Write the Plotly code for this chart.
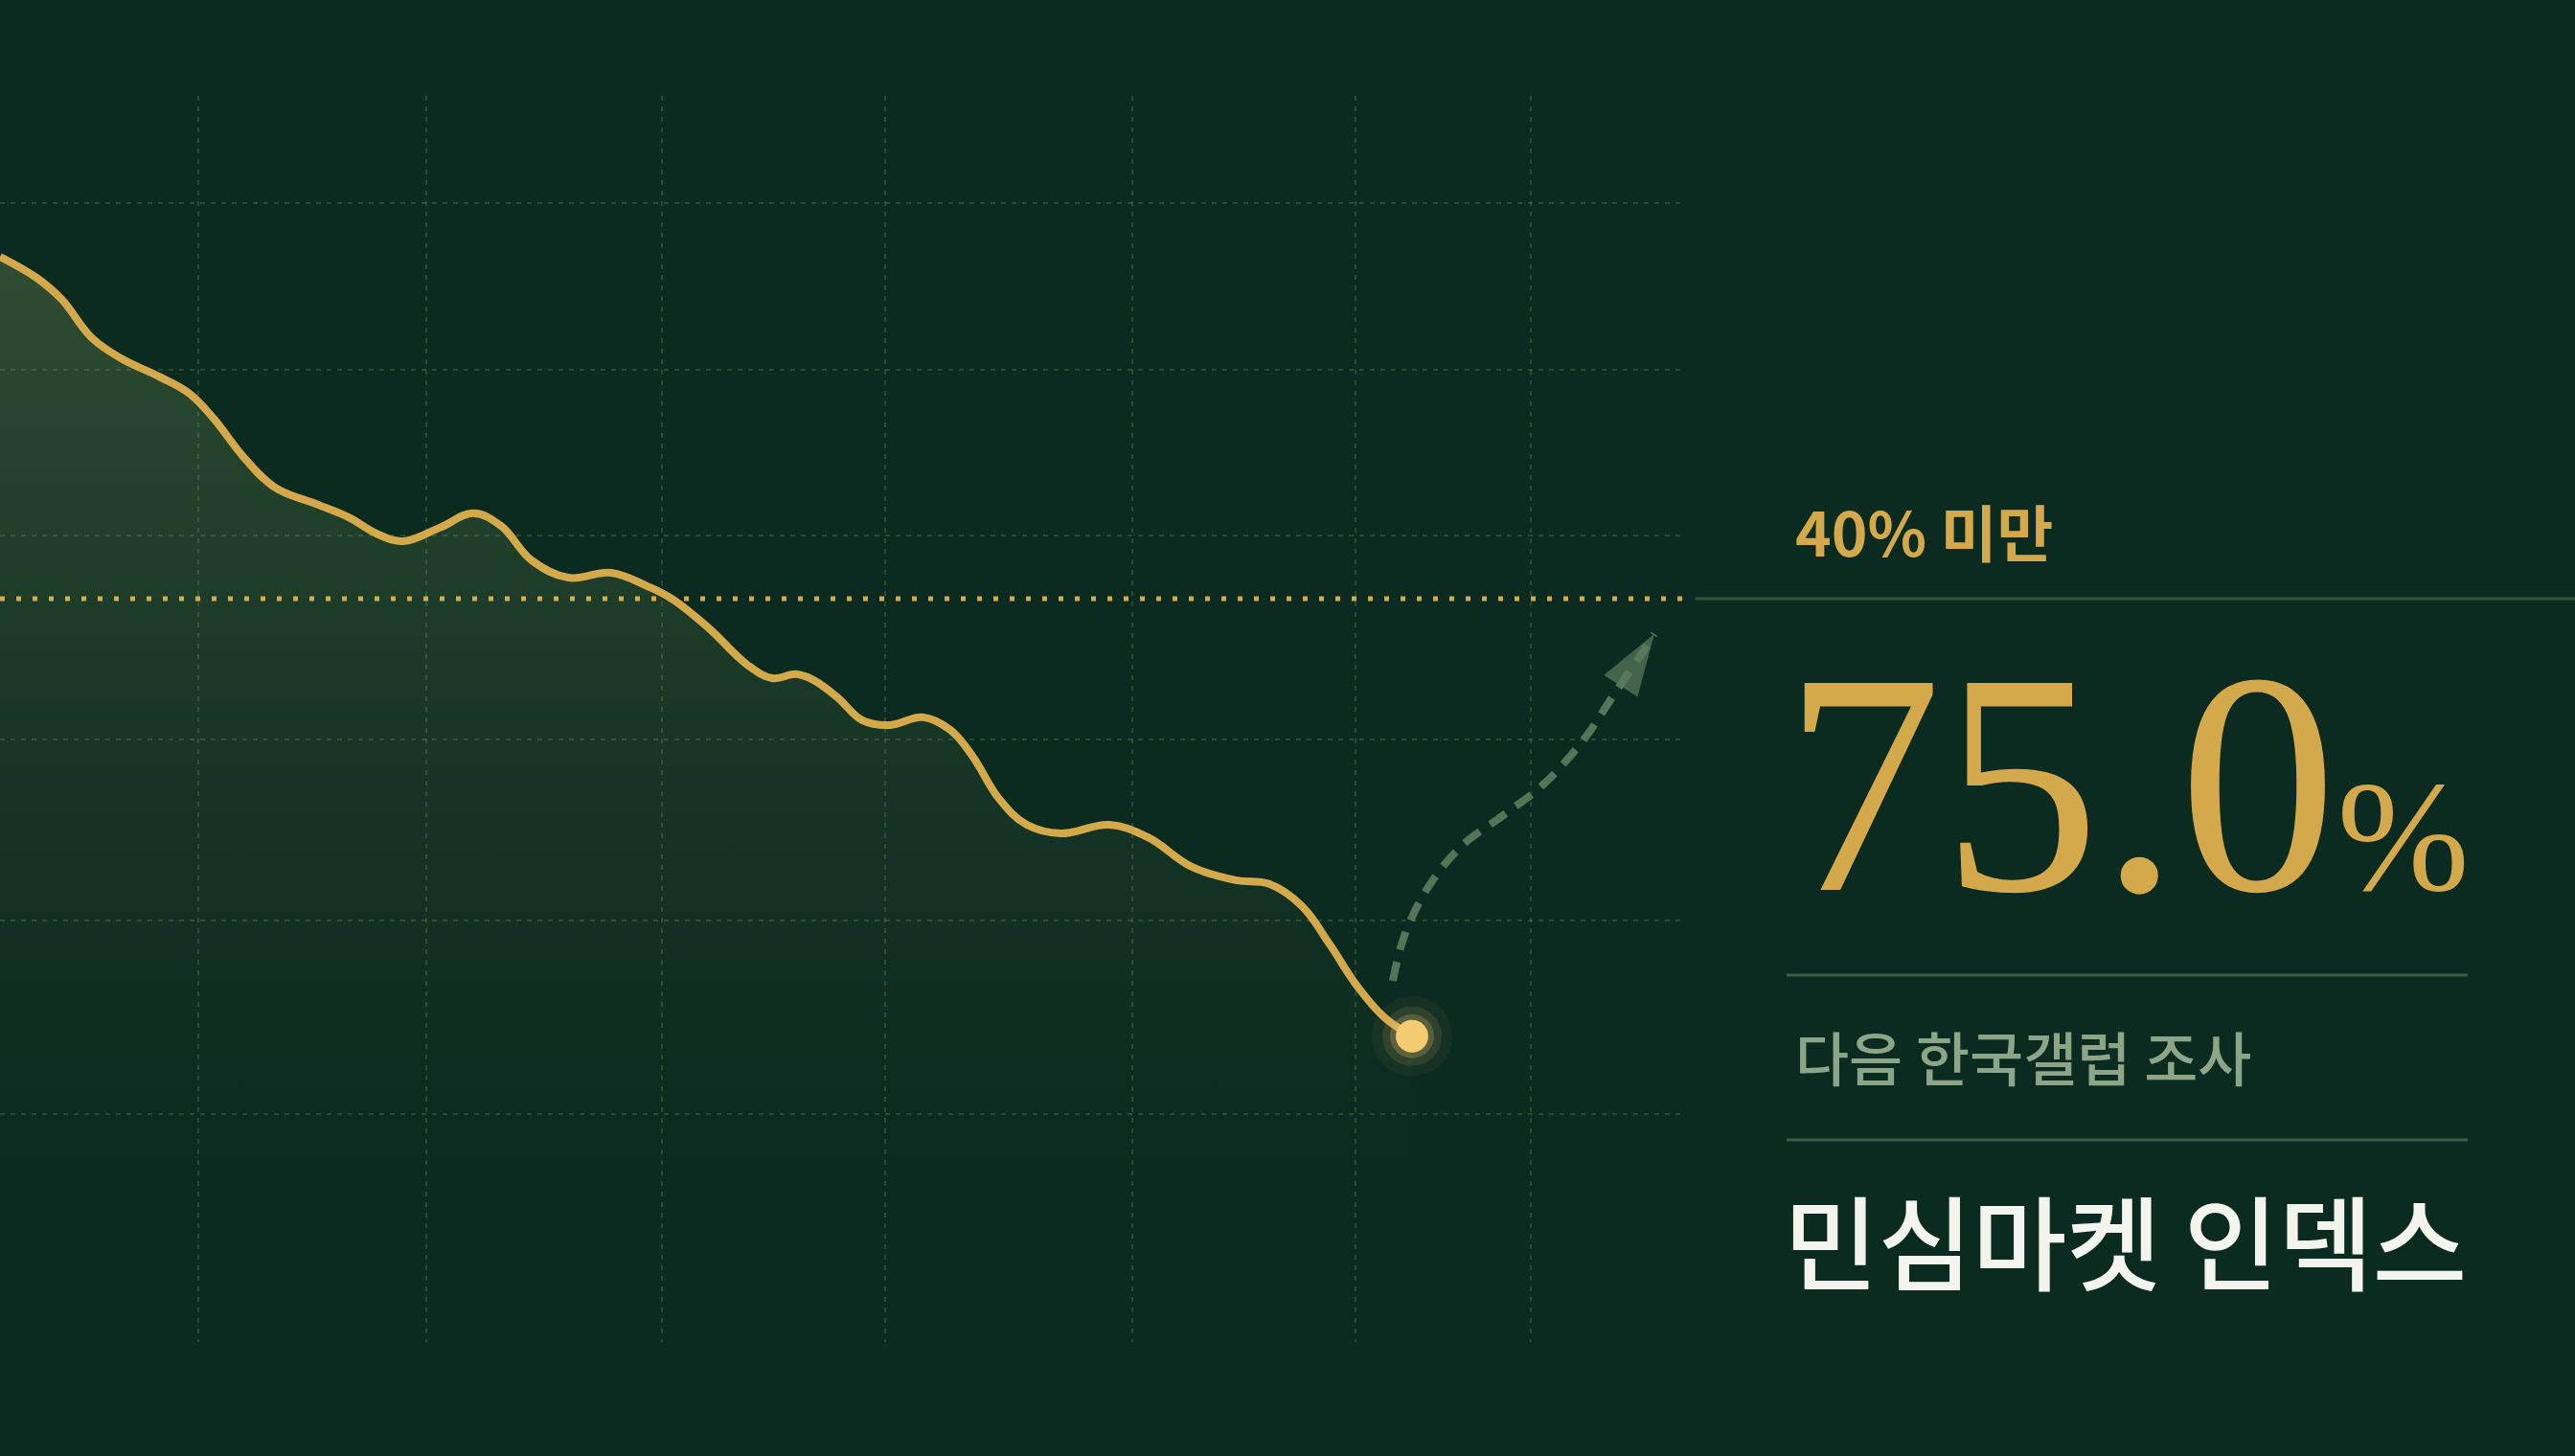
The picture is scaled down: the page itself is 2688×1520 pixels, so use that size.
import plotly.graph_objects as go

# ---- data ----
days = [0, 3.8, 6.4, 9.6, 12.8, 16.6, 19.8, 22.3, 25.5, 28.7, 33.2, 36.4, 39.5, 42.1,
        45.9, 49.4, 52.3, 55.5, 59.3, 63.8, 67.6, 70.1, 74.0, 78.0, 80.6, 83.1, 84.9,
        87.4, 90.0, 92.9, 96.3, 99.2, 101.5, 104.3, 107.2, 110.7, 115.8, 119.8, 124.4,
        129.0, 132.5, 135.9, 138.8, 141.7, 144.5, 147.4]
approval = [51.9, 51.17, 50.43, 49.07, 48.33, 47.73, 47.13, 46.27, 44.9, 43.87, 43.27,
            42.83, 42.23, 42.0, 42.47, 42.97, 42.53, 41.33, 40.73, 40.9, 40.43, 40.0,
            38.97, 37.7, 37.23, 37.37, 37.17, 36.57, 35.77, 35.6, 35.87, 35.43, 34.53,
            33.03, 32.13, 31.83, 32.13, 31.7, 30.67, 30.2, 30.07, 29.3, 27.97, 26.5,
            25.43, 24.77]
threshold = 40
projection_days = [145.4, 146.6, 149.1, 152.6, 156.8, 161.1, 165.4, 168.8, 171.2, 172.7]
projection_vals = [26.7, 28.27, 29.97, 31.4, 32.43, 33.53, 35.13, 36.83, 38.0, 38.77]
grid_days = [20.7, 44.5, 69.1, 92.4, 118.2, 141.5, 159.8]
grid_vals = [53.77, 47.97, 42.2, 35.1, 28.8, 22.07]

label_threshold = "40% 미만"
probability = "75.0"
label_source = "다음 한국갤럽 조사"
label_title = "민심마켓 인덱스"

W, H = 2688, 1520
BG = "#0B2A20"
GOLD = "#D4A94C"
KR = "Noto Sans CJK KR"

fig = go.Figure()

# area under the curve
fig.add_trace(go.Scatter(
    x=days, y=approval, mode="lines", line=dict(width=0, shape="spline", smoothing=1.1),
    fill="tozeroy",
    fillgradient=dict(type="vertical", start=20, stop=52,
                      colorscale=[[0, "rgba(90,125,70,0)"], [0.4, "rgba(100,135,75,0.10)"],
                                  [1, "rgba(120,150,88,0.32)"]]),
    hoverinfo="skip", showlegend=False))

# main line
fig.add_trace(go.Scatter(
    x=days, y=approval, mode="lines",
    line=dict(color=GOLD, width=8, shape="spline", smoothing=1.1),
    hoverinfo="skip", showlegend=False))

# projection arrow
fig.add_trace(go.Scatter(
    x=projection_days, y=projection_vals, mode="lines+markers",
    line=dict(color="rgba(92,124,94,0.9)", width=8, dash="20px,13px", shape="spline"),
    marker=dict(symbol="arrow", size=[0] * (len(projection_days) - 1) + [68],
                angleref="previous", color="rgba(92,124,94,1)", line=dict(width=0)),
    hoverinfo="skip", showlegend=False))

# glowing end point
for sz, col in [(84, "rgba(243,204,114,0.05)"), (62, "rgba(243,204,114,0.11)"),
                (46, "rgba(243,204,114,0.22)"), (34, "#F3CC72")]:
    fig.add_trace(go.Scatter(
        x=[days[-1]], y=[approval[-1]], mode="markers",
        marker=dict(size=sz, color=col, line=dict(width=0)),
        hoverinfo="skip", showlegend=False, cliponaxis=False))

grid_color = "rgba(125,145,100,0.30)"
fig.update_xaxes(range=[0, 175.7], domain=[0, 1757 / W], tickvals=grid_days,
                 showticklabels=False, showgrid=True, gridcolor=grid_color, gridwidth=2,
                 griddash="5px,6px", zeroline=False, showline=False, ticks="")
fig.update_yaxes(range=[14.13, 57.5], domain=[1 - 1401 / H, 1 - 100 / H], tickvals=grid_vals,
                 showticklabels=False, showgrid=True, gridcolor=grid_color, gridwidth=2,
                 griddash="5px,6px", zeroline=False, showline=False, ticks="")

sep_color = "rgba(105,135,100,0.55)"
shapes = [
    dict(type="line", xref="x", yref="y", x0=0, x1=175.7, y0=threshold, y1=threshold,
         line=dict(color=GOLD, width=5, dash="5px,12px")),
    dict(type="line", xref="paper", yref="paper", x0=1770 / W, x1=1, y0=1 - 625 / H, y1=1 - 625 / H,
         line=dict(color="rgba(105,135,100,0.45)", width=3)),
    dict(type="line", xref="paper", yref="paper", x0=1865 / W, x1=2576 / W, y0=1 - 1018 / H,
         y1=1 - 1018 / H, line=dict(color=sep_color, width=3)),
    dict(type="line", xref="paper", yref="paper", x0=1865 / W, x1=2576 / W, y0=1 - 1190 / H,
         y1=1 - 1190 / H, line=dict(color=sep_color, width=3)),
]

annotations = [
    dict(text=label_threshold, x=1872 / W, y=1 - 553 / H, xref="paper", yref="paper",
         xanchor="left", yanchor="middle", showarrow=False,
         font=dict(family=KR, size=64, color=GOLD, weight=600)),
    dict(text=probability + "<span style='font-size:166px'>%</span>", x=1860 / W, y=1 - 818 / H,
         xref="paper", yref="paper", xanchor="left", yanchor="middle", showarrow=False,
         font=dict(family="Liberation Serif", size=330, color=GOLD)),
    dict(text=label_source, x=1872 / W, y=1 - 1102 / H, xref="paper", yref="paper",
         xanchor="left", yanchor="middle", showarrow=False,
         font=dict(family=KR, size=61, color="#8CA488", weight=500)),
    dict(text=label_title, x=1860 / W, y=1 - 1292 / H, xref="paper", yref="paper",
         xanchor="left", yanchor="middle", showarrow=False,
         font=dict(family=KR, size=107, color="#F4F4EF", weight=500)),
]

fig.update_layout(width=W, height=H, margin=dict(l=0, r=0, t=0, b=0),
                  paper_bgcolor=BG, plot_bgcolor=BG, shapes=shapes, annotations=annotations,
                  showlegend=False)

fig.write_html("out.html", config={"displayModeBar": False},
               post_script="document.body.style.margin='0';document.body.style.background='#0B2A20';")
